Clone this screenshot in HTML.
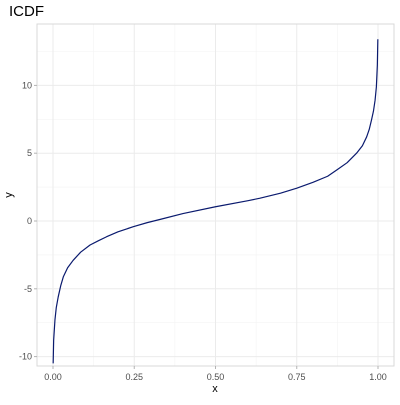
<!DOCTYPE html>
<html><head><meta charset="utf-8"><style>
body{margin:0;background:#fff;font-family:"Liberation Sans",sans-serif}
</style></head><body>
<svg id="chart" width="400" height="400" xmlns="http://www.w3.org/2000/svg">
<text x="9" y="16" font-size="15" fill="#000">ICDF</text>
<g id="grid"></g>
<rect x="37" y="24" width="357" height="342" fill="none" stroke="#d9d9d9" stroke-width="1"/>
<g id="marks"></g>
<g id="axes"></g>
<text x="215" y="392" font-size="11" text-anchor="middle" fill="#000">x</text>
<text x="12" y="195" font-size="11" text-anchor="middle" fill="#000" transform="rotate(-90 12 195)">y</text>
</svg>
<script>
const xs=[0.0005,0.002,0.006,0.01,0.016,0.024,0.032,0.045,0.062,0.085,0.114,0.14,0.165,0.2,0.247,0.29,0.33,0.4,0.5,0.6,0.637,0.7,0.75,0.8,0.845,0.873,0.905,0.934,0.952,0.965,0.973,0.98,0.986,0.991,0.995,0.998,0.9995];
const ys=[-10.5,-8.8,-7.3,-6.4,-5.6,-4.75,-4.1,-3.45,-2.9,-2.3,-1.77,-1.45,-1.16,-0.8,-0.42,-0.12,0.12,0.55,1.05,1.5,1.68,2.05,2.42,2.85,3.3,3.76,4.3,5.0,5.55,6.2,6.75,7.45,8.1,8.9,9.9,11.5,13.4];
const xTicks=[0,0.25,0.5,0.75,1];
const xTickLabels=["0.00","0.25","0.50","0.75","1.00"];
const yTicks=[-10,-5,0,5,10];
const yTickLabels=["-10","-5","0","5","10"];
const X=v=>53+325*v, Y=v=>221-13.56*v;
const ns="http://www.w3.org/2000/svg";
const grid=document.getElementById('grid'),axes=document.getElementById('axes'),marks=document.getElementById('marks');
function mk(tag,attrs,parent){const e=document.createElementNS(ns,tag);for(const k in attrs)e.setAttribute(k,attrs[k]);parent.appendChild(e);return e;}
for(let i=0;i<xTicks.length-1;i++){const m=(xTicks[i]+xTicks[i+1])/2;
const l=mk('line',{x1:X(m),x2:X(m),y1:24,y2:366,stroke:'#f3f3f3','stroke-width':0.6},grid);

}
[-7.5,-2.5,2.5,7.5,12.5].forEach(m=>{
const l=mk('line',{x1:37,x2:394,y1:Y(m),y2:Y(m),stroke:'#f3f3f3','stroke-width':0.6},grid);

});
xTicks.forEach((t,i)=>{
const l=mk('line',{x1:X(t),x2:X(t),y1:24,y2:366,stroke:'#ebebeb','stroke-width':1},grid);


const k=mk('line',{x1:X(t),x2:X(t),y1:366,y2:369,stroke:'#b3b3b3','stroke-width':1},axes);


const tx=mk('text',{x:X(t),y:380,'font-size':9,'text-anchor':'middle',fill:'#4d4d4d'},axes);
tx.textContent=xTickLabels[i];

});
yTicks.forEach((t,i)=>{
const l=mk('line',{x1:37,x2:394,y1:Y(t),y2:Y(t),stroke:'#ebebeb','stroke-width':1},grid);


const k=mk('line',{x1:34,x2:37,y1:Y(t),y2:Y(t),stroke:'#b3b3b3','stroke-width':1},axes);


const tx=mk('text',{x:32,y:Y(t)+3,'font-size':9,'text-anchor':'end',fill:'#4d4d4d'},axes);
tx.textContent=yTickLabels[i];

});
const pts=xs.map((x,i)=>X(x).toFixed(2)+','+Y(ys[i]).toFixed(2));
let d='M'+pts[0];
for(let i=1;i<pts.length;i++)d+=' L'+pts[i];
const pl=mk('path',{d:d,fill:'none',stroke:'#0a1a6e','stroke-width':1.2,'stroke-linejoin':'round'},marks);


</script>
</body></html>
